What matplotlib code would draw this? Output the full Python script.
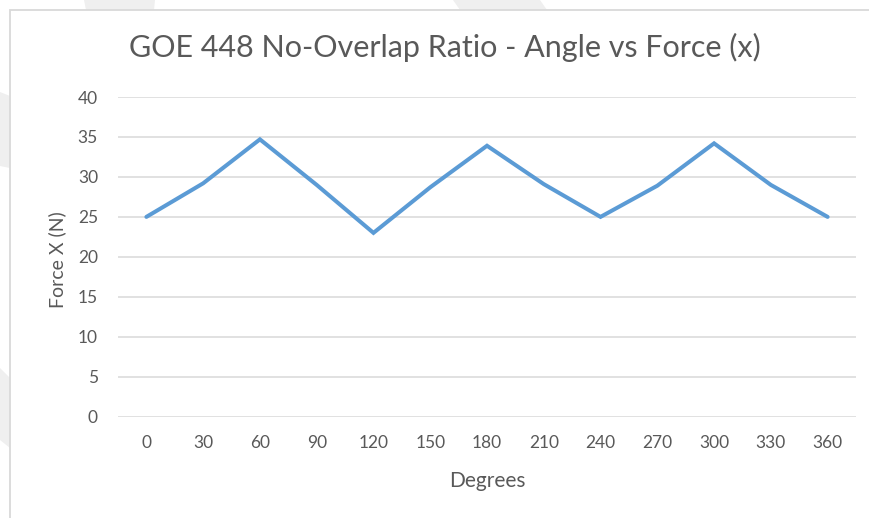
import matplotlib
matplotlib.use("Agg")
import matplotlib.pyplot as plt
from matplotlib.patches import Polygon, Rectangle

# Data
degrees = [0, 30, 60, 90, 120, 150, 180, 210, 240, 270, 300, 330, 360]
force_x = [25.0, 29.2, 34.7, 29.0, 23.0, 28.7, 33.9, 29.1, 25.0, 28.9, 34.2, 29.0, 25.0]
y_ticks = [0, 5, 10, 15, 20, 25, 30, 35, 40]
title = "GOE 448 No-Overlap Ratio - Angle vs Force (x)"
x_label = "Degrees"
y_label = "Force X (N)"

W, H = 869, 518
plt.rcParams['font.family'] = ['Lato', 'DejaVu Sans']
fig = plt.figure(figsize=(W / 100, H / 100), dpi=100)
fig.patch.set_facecolor('white')

def fx(px):
    return px / W

def fy(py):
    return 1 - py / H

# background watermark shapes
wm = '#efefef'
for pts in [
    [(84, 0), (155, 0), (154, 10), (86, 10)],
    [(453, 0), (540, 0), (547, 10), (460, 10)],
    [(0, 92), (10, 96), (10, 168), (0, 166)],
    [(0, 368), (10, 378), (10, 448), (0, 440)],
]:
    fig.patches.append(Polygon([(fx(x), fy(y)) for x, y in pts], closed=True,
                               transform=fig.transFigure, facecolor=wm,
                               edgecolor='none', zorder=0))

# chart area border (cropped on right/bottom)
fig.patches.append(Rectangle((fx(10), fy(530)), fx(880) - fx(10), fy(10) - fy(530),
                             transform=fig.transFigure, facecolor='white',
                             edgecolor='#d9d9d9', linewidth=1.3, zorder=1))

# plot area
left, right, top, bottom = 118, 856, 97, 416.7
ax = fig.add_axes([fx(left), fy(bottom), fx(right) - fx(left), fy(top) - fy(bottom)])
ax.set_facecolor('none')
ax.set_zorder(2)

idx = list(range(len(degrees)))
ax.plot(idx, force_x, color='#5b9bd5', linewidth=2.9, solid_capstyle='round',
        solid_joinstyle='miter', zorder=3)

ax.set_xlim(-0.5, len(degrees) - 0.5)
ax.set_ylim(0, 40)
ax.set_yticks(y_ticks)
ax.set_xticks(idx)
ax.set_xticklabels([str(d) for d in degrees])
ax.grid(axis='y', color='#d9d9d9', linewidth=1.1)
ax.set_axisbelow(True)
for s in ax.spines.values():
    s.set_visible(False)
ax.tick_params(axis='both', length=0, labelsize=12.5, labelcolor='#595959')
ax.tick_params(axis='y', pad=14.4)
ax.tick_params(axis='x', pad=13.5)

fig.text(fx(445), fy(47), title, ha='center', va='center', fontsize=22,
         color='#595959', zorder=5)
fig.text(fx(487), fy(481), x_label, ha='center', va='center', fontsize=15,
         color='#595959', zorder=5)
fig.text(fx(57), fy(260), y_label, ha='center', va='center', fontsize=14,
         color='#595959', rotation=90, zorder=5)

fig.savefig('out.png', dpi=100)
